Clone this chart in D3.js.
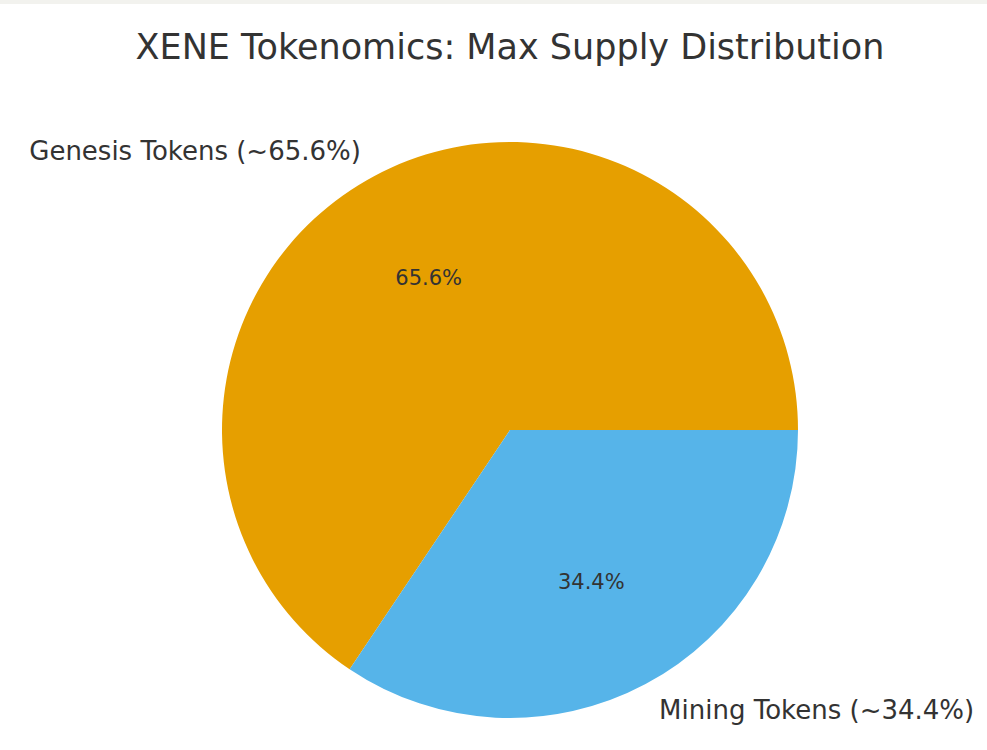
<!DOCTYPE html>
<html>
<head>
<meta charset="utf-8">
<script src="https://cdn.jsdelivr.net/npm/d3@7"></script>
<style>
  html, body { margin: 0; padding: 0; background: #ffffff; }
  svg { display: block; }
  text { font-family: "DejaVu Sans", sans-serif; fill: #333333; }
</style>
</head>
<body>
<svg id="chart" width="987" height="750"></svg>
<script>
const title = "XENE Tokenomics: Max Supply Distribution";
const categories = ["Genesis Tokens (~65.6%)", "Mining Tokens (~34.4%)"];
const values = [65.6, 34.4];
const colors = ["#E69F00", "#56B4E9"];

const W = 987, H = 750;
const cx = 510, cy = 430, R = 288;

const svg = d3.select("#chart");
svg.append("rect").attr("x", 0).attr("y", 0).attr("width", W).attr("height", H).attr("fill", "#ffffff");
svg.append("rect").attr("x", 0).attr("y", 0).attr("width", W).attr("height", 4).attr("fill", "#f2f2ee");

svg.append("text")
  .attr("x", cx).attr("y", 47)
  .attr("text-anchor", "middle")
  .attr("dominant-baseline", "central")
  .style("font-size", "35px")
  .text(title);

const data = categories.map((c, i) => ({ label: c, value: values[i], color: colors[i] }));
const total = d3.sum(values);

// matplotlib-style: start at 3 o'clock, counterclockwise.
const pie = d3.pie().value(d => d.value).sort(null)
  .startAngle(Math.PI / 2).endAngle(Math.PI / 2 - 2 * Math.PI);
const arcs = pie(data);
const arc = d3.arc().innerRadius(0).outerRadius(R);

const g = svg.append("g").attr("transform", `translate(${cx},${cy})`);
g.selectAll("path").data(arcs).enter().append("path")
  .attr("d", arc)
  .attr("fill", d => d.data.color);

arcs.forEach(d => {
  const mid = (d.startAngle + d.endAngle) / 2;
  const sx = Math.sin(mid), sy = -Math.cos(mid);
  g.append("text")
    .attr("x", 1.1 * R * sx)
    .attr("y", 1.1 * R * sy)
    .attr("text-anchor", sx < 0 ? "end" : "start")
    .attr("dominant-baseline", "central")
    .style("font-size", "26px")
    .text(d.data.label);
  g.append("text")
    .attr("x", 0.6 * R * sx)
    .attr("y", 0.6 * R * sy)
    .attr("text-anchor", "middle")
    .attr("dominant-baseline", "central")
    .style("font-size", "21px")
    .text((d.data.value / total * 100).toFixed(1) + "%");
});
</script>
</body>
</html>
